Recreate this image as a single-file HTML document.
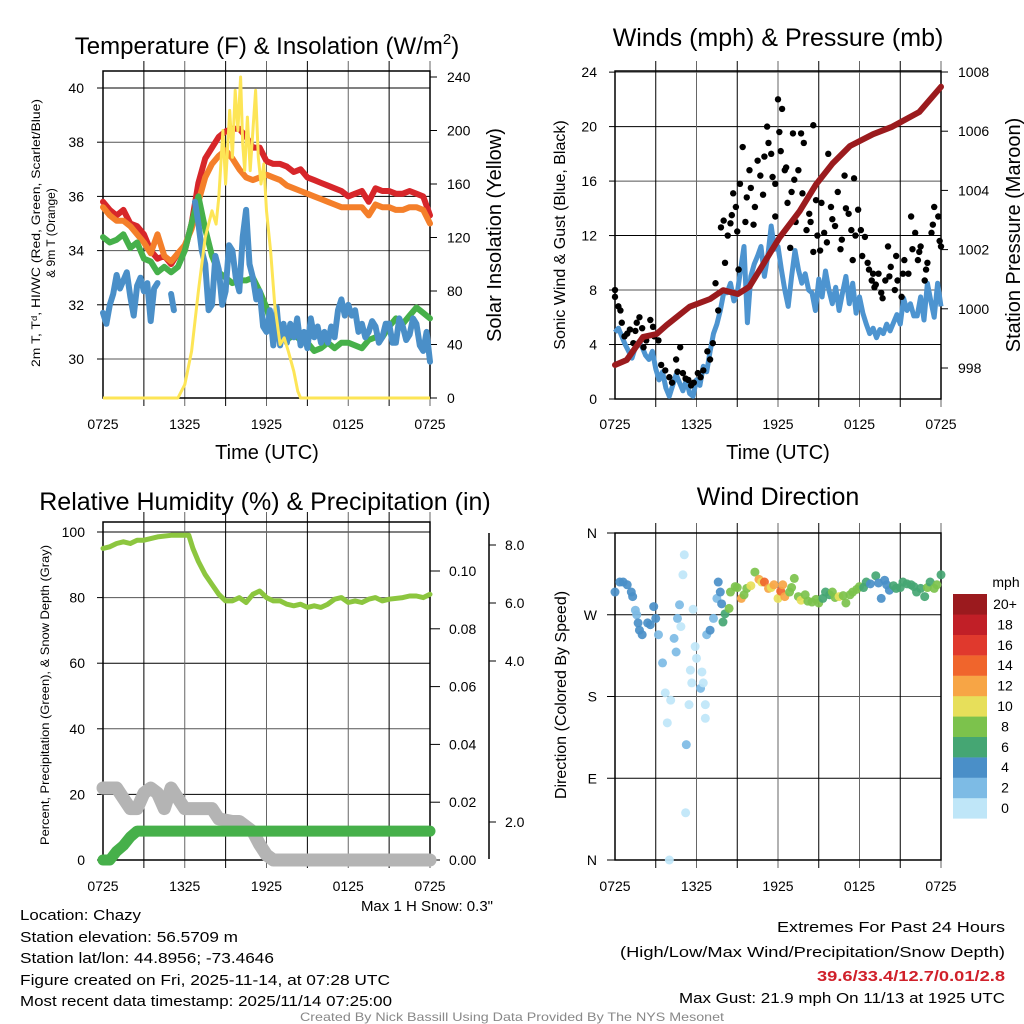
<!DOCTYPE html>
<html><head><meta charset="utf-8">
<style>
html,body{margin:0;padding:0;background:#fff;}
svg{display:block;font-family:"Liberation Sans",Arial,sans-serif;}
</style></head>
<body>
<svg id="fig" width="1024" height="1024" viewBox="0 0 1024 1024" xmlns="http://www.w3.org/2000/svg">
<rect x="0" y="0" width="1024" height="1024" fill="#fff"/>
<g id="g1"></g>
<g id="g2"></g>
<g id="g3"></g>
<g id="g4"></g>
<g font-size="15" fill="#000">
<text x="20" y="920" textLength="121" lengthAdjust="spacingAndGlyphs">Location: Chazy</text>
<text x="20" y="942" textLength="218" lengthAdjust="spacingAndGlyphs">Station elevation: 56.5709 m</text>
<text x="20" y="963" textLength="254" lengthAdjust="spacingAndGlyphs">Station lat/lon: 44.8956; -73.4646</text>
<text x="20" y="985" textLength="370" lengthAdjust="spacingAndGlyphs">Figure created on Fri, 2025-11-14, at 07:28 UTC</text>
<text x="20" y="1006" textLength="372" lengthAdjust="spacingAndGlyphs">Most recent data timestamp: 2025/11/14 07:25:00</text>
</g>
<g font-size="15" text-anchor="end">
<text x="1005" y="932" textLength="228" lengthAdjust="spacingAndGlyphs">Extremes For Past 24 Hours</text>
<text x="1005" y="957" textLength="385" lengthAdjust="spacingAndGlyphs">(High/Low/Max Wind/Precipitation/Snow Depth)</text>
<text x="1005" y="981" fill="#d0202a" font-weight="bold" textLength="188" lengthAdjust="spacingAndGlyphs">39.6/33.4/12.7/0.01/2.8</text>
<text x="1005" y="1003" textLength="326" lengthAdjust="spacingAndGlyphs">Max Gust: 21.9 mph On 11/13 at 1925 UTC</text>
</g>
<text x="512" y="1021" font-size="12" fill="#888" text-anchor="middle" textLength="424" lengthAdjust="spacingAndGlyphs">Created By Nick Bassill Using Data Provided By The NYS Mesonet</text>
</svg>
<script>
// ---------- DATA ----------
const xTickLabels = ["0725","1325","1925","0125","0725"];
// Panel 1
const tempTimes = [0,0.5,1,1.5,2,2.5,3,3.5,4,4.5,5,5.5,6,6.5,7,7.5,8,8.5,9,9.5,10,10.5,11,11.5,12,12.5,13,13.5,14,14.5,15,15.5,16,16.5,17,17.5,18,18.5,19,19.5,20,20.5,21,21.5,22,22.5,23,23.5,24];
const tempRed = [35.8,35.5,35.3,35.5,35.0,34.9,34.6,34.0,33.7,33.8,33.5,33.9,34.0,35.0,36.5,37.4,37.8,38.2,38.4,38.5,38.5,38.2,37.8,37.8,37.3,37.2,37.2,37.1,36.9,37.0,36.7,36.6,36.5,36.4,36.3,36.2,36.0,36.1,36.2,35.8,36.3,36.2,36.2,36.1,36.1,36.2,36.1,36.0,35.3];
const tempOrange = [35.6,35.3,35.1,35.1,34.9,34.6,34.3,33.9,34.6,33.8,33.6,33.9,34.2,34.8,35.8,36.7,37.2,37.5,37.7,37.4,37.0,36.7,36.6,36.7,36.8,36.7,36.6,36.4,36.3,36.2,36.1,36.0,35.9,35.8,35.7,35.6,35.6,35.6,35.6,35.3,35.7,35.6,35.6,35.5,35.5,35.6,35.6,35.5,35.0];
const tempGreen = [34.5,34.3,34.4,34.6,34.1,34.3,33.7,33.6,33.2,33.4,33.2,33.4,34.0,35.0,36.0,34.8,33.8,33.2,33.0,32.8,32.9,32.9,33.0,32.5,31.9,31.0,30.8,30.7,30.9,30.7,30.6,30.3,30.4,30.6,30.4,30.6,30.6,30.5,30.4,30.7,30.8,30.8,31.2,31.5,31.3,31.6,31.9,31.7,31.5];
const blueTimes = [0,0.25,0.5,0.75,1,1.25,1.5,1.75,2,2.25,2.5,2.75,3,3.25,3.5,3.75,4,4.5,5.0,5.2,6.0,6.75,7,7.25,7.5,7.75,8,8.25,8.5,8.75,9,9.25,9.5,9.75,10,10.25,10.5,10.75,11,11.25,11.5,11.75,12,12.25,12.5,12.75,13,13.25,13.5,13.75,14,14.25,14.5,14.75,15,15.25,15.5,15.75,16,16.25,16.5,16.75,17,17.25,17.5,17.75,18,18.25,18.5,18.75,19,19.25,19.5,19.75,20,20.25,20.5,20.75,21,21.25,21.5,21.75,22,22.25,22.5,22.75,23,23.25,23.5,23.75,24];
const tempBlue = [31.7,31.3,32.0,32.4,33.1,32.6,32.9,33.2,32.3,31.6,32.7,33.0,32.5,32.8,31.4,32.6,32.8,null,32.4,31.8,null,35.8,35.0,34.0,33.5,31.8,32.0,33.8,33.3,32.0,32.5,34.2,34.0,33.0,32.5,34.5,35.5,33.5,33.0,32.2,32.5,31.2,31.0,31.8,30.5,31.9,30.5,31.3,30.6,31.3,30.8,31.5,30.5,31.0,30.4,31.5,30.8,31.2,30.6,31.0,30.6,31.2,30.8,31.8,32.2,31.6,32.0,31.6,31.8,31.0,31.3,30.8,31.0,31.4,31.2,30.6,30.8,31.3,31.3,30.6,30.6,31.5,31.2,30.7,30.9,31.5,31.3,30.5,30.3,31.0,29.9];
const solarTimes = [0,5.5,6,6.5,7,7.5,8,8.3,8.5,8.8,9,9.3,9.5,9.7,9.9,10.1,10.25,10.4,10.6,10.8,11,11.2,11.4,11.6,11.8,12,12.3,12.6,13,13.3,13.6,14,14.3,14.5,24];
const solarVals = [0,0,10,35,80,120,140,130,150,200,160,215,180,230,200,240,190,170,210,170,200,230,180,160,175,140,110,70,40,45,35,20,5,0,0];
const p1LeftTicks = [30,32,34,36,38,40];
const p1RightTicks = [0,40,80,120,160,200,240];
// Panel 2
const windTimes = [0,0.25,0.5,0.75,1,1.25,1.5,1.75,2,2.25,2.5,2.75,3,3.25,3.5,3.75,4,4.25,4.5,4.75,5,5.25,5.5,5.75,6,6.25,6.5,6.75,7,7.25,7.5,7.75,8,8.25,8.5,8.75,9,9.25,9.5,9.75,10,10.25,10.5,10.75,11,11.25,11.5,11.75,12,12.25,12.5,12.75,13,13.25,13.5,13.75,14,14.25,14.5,14.75,15,15.25,15.5,15.75,16,16.25,16.5,16.75,17,17.25,17.5,17.75,18,18.25,18.5,18.75,19,19.25,19.5,19.75,20,20.25,20.5,20.75,21,21.25,21.5,21.75,22,22.25,22.5,22.75,23,23.25,23.5,23.75,24];
const windVals = [4.9,5.2,4.6,4.0,3.5,3.0,3.8,4.2,3.8,3.2,2.9,3.5,2.2,1.4,2.0,0.8,0.2,1.0,1.8,1.2,0.6,1.4,0.4,0.2,1.4,1.0,2.4,2.0,3.5,4.8,5.5,6.5,7.8,7.8,8.5,7.2,7.8,9.5,11.2,5.6,9.0,9.9,10.5,11.2,9.0,10.5,12.7,11.0,11.2,9.5,8.0,6.8,9.0,10.9,9.5,8.5,9.2,8.0,7.8,6.5,8.8,7.5,9.4,8.0,7.0,8.2,6.5,7.8,9.0,7.0,8.5,6.3,7.5,6.3,5.5,4.8,5.2,4.5,5.1,4.8,5.5,5.0,5.6,6.2,5.5,7.4,6.5,7.0,6.1,6.1,7.5,5.8,8.5,7.2,6.0,8.5,6.8];
const gustTimes = [0,0,0.25,0.5,0.7,1.1,1.35,1.6,1.8,2.0,2.3,2.6,2.8,3.2,3.7,4.0,4.5,4.8,5.0,5.4,5.8,6.1,6.5,7.0,7.2,7.6,8.1,8.0,8.5,8.7,8.9,9.1,9.4,9.7,10.0,10.3,10.7,11.0,11.3,11.5,11.6,11.8,12.0,12.1,12.3,12.5,12.7,12.9,13.1,13.2,13.5,13.7,13.8,14.1,14.3,14.6,14.6,14.8,15.1,15.4,15.7,15.9,16.2,16.4,16.7,16.9,17.2,17.4,17.5,17.6,17.9,18.1,18.4,18.6,18.9,19.0,19.1,19.4,19.6,19.9,20.1,20.3,20.6,20.8,21.1,21.3,21.6,21.8,22.1,22.3,22.5,22.8,23.0,23.3,23.5,23.8,24.0,
 0.4,0.9,1.5,2.1,2.9,3.4,4.2,4.6,5.2,5.6,6.3,6.8,7.4,7.8,8.3,8.6,9.0,9.2,9.6,9.9,10.2,10.5,10.9,11.2,11.8,12.2,12.6,13.0,13.3,13.9,14.4,14.9,15.2,15.6,16.0,16.6,17.0,17.7,18.2,18.7,19.2,19.7,20.2,20.7,21.2,21.9,22.4,22.9,23.4,23.9];
const gustVals = [8.0,7.5,6.8,5.6,4.6,5.1,4.1,5.6,6.0,5.2,4.3,5.8,5.3,4.3,2.1,1.6,2.9,3.8,1.9,1.4,1.2,1.9,2.1,2.9,4.1,6.5,10.0,13.1,12.9,15.1,14.1,9.5,18.5,14.8,15.5,14.1,16.4,17.8,18.8,18.0,16.3,13.4,22.0,19.6,21.3,16.8,14.4,11.1,19.5,16.1,16.8,19.5,15.1,12.4,13.6,20.1,10.8,14.6,10.9,12.2,18.0,14.1,12.7,15.2,11.7,16.4,13.6,12.4,10.2,16.2,13.9,12.4,11.9,10.0,8.7,9.2,8.2,9.2,7.8,8.7,11.2,9.7,8.0,8.7,7.5,10.2,9.2,13.4,12.2,10.2,11.2,8.7,10.0,12.2,14.1,13.4,11.2,
 6.5,4.8,5.0,3.8,4.6,2.5,1.2,2.0,1.5,1.0,1.6,3.5,8.5,12.6,12.0,13.5,12.3,15.8,13.0,16.8,12.8,17.5,15.0,20.0,15.8,18.2,17.0,15.2,13.0,18.8,13.0,12.0,14.4,11.5,13.2,11.0,14.0,12.0,10.5,9.5,8.4,7.4,9.0,10.5,9.2,11.0,10.8,9.5,12.8,11.6];
const presTimes = [0,0.86,2.07,3.06,3.8,5.5,7,7.96,9.05,9.9,10.9,12.1,13.6,14.8,16,17.3,19,20.4,22.4,24];
const presVals = [998.1,998.27,999.05,999.15,999.45,1000.07,1000.33,1000.63,1000.5,1000.75,1001.5,1002.4,1003.3,1004.2,1004.9,1005.5,1005.9,1006.15,1006.65,1007.5];
const p2LeftTicks = [0,4,8,12,16,20,24];
const p2RightTicks = [998,1000,1002,1004,1006,1008];
// Panel 3
const rhTimes = [0,0.5,1,1.5,2,2.5,3,3.5,4,5,6,6.3,6.6,7,7.5,8,8.5,9,9.5,10,10.5,11,11.5,12,12.5,13,13.5,14,14.5,15,15.5,16,16.5,17,17.5,18,18.5,19,19.5,20,20.5,21,22,22.5,23,23.5,24];
const rhVals = [95,95.5,96.5,97,96.5,97.5,97.5,98,98.5,99,99,99,95,91,87,84,81,79,79,80,78.5,81,82,80,79,79,78,77.5,78,77,77.5,77,78,79.5,80,78.5,79,78.5,79.5,80,79,79.5,80,80.5,80.5,80,81];
const precipTimes = [0,0.5,1,1.5,2,2.5,24];
const precipVals = [0,0,0.003,0.005,0.008,0.01,0.01];
const snowTimes = [0,1,1.5,2,2.5,3,3.5,4,4.5,5,5.5,6,7,8,8.5,9.5,10,11,11.5,12,12.5,24];
const snowVals = [2.8,2.8,2.4,2.0,2.0,2.6,2.8,2.6,2.0,2.8,2.4,2.0,2.0,2.0,1.6,1.5,1.5,1.1,0.6,0.2,0,0];
const p3LeftTicks = [0,20,40,60,80,100];
const p3PrecipTicks = ["0.00","0.02","0.04","0.06","0.08","0.10"];
const p3SnowTicks = ["8.0","6.0","4.0","2.0"];
// Panel 4
const dirTimes = [0,0.35,0.6,0.9,1.2,1.3,1.5,1.6,1.7,1.8,2.0,2.4,2.6,2.85,3.0,3.2,3.5,3.7,3.85,4.0,4.1,4.35,4.5,4.6,4.75,4.85,5.0,5.1,5.2,5.25,5.45,5.55,5.65,5.75,5.9,6.0,6.3,6.4,6.5,6.65,6.65,6.75,7.0,7.25,7.5,7.6,7.75,7.85,7.95,8.1,8.4,8.5,8.85,9.0,9.3,9.5,9.7,10.0,10.3,10.6,10.8,11.0,11.3,11.5,11.7,12.0,12.2,12.35,12.5,12.85,13.0,13.2,13.5,13.7,14.0,14.2,14.5,14.8,15.0,15.3,15.5,15.8,16.0,16.2,16.5,16.8,17.0,17.3,17.5,17.8,18.0,18.3,18.5,18.8,19.2,19.4,19.6,19.85,20.0,20.2,20.5,20.7,21.0,21.2,21.5,21.8,22.0,22.2,22.5,22.8,23.0,23.2,23.5,23.7,24];
const dirVals = [295,306,306,303,295,290,275,270,261,253,248,261,259,279,266,248,217,184,151,0,176,244,229,266,281,257,314,336,52,127,171,209,195,276,235,222,189,207,195,171,156,248,253,266,288,306,295,282,262,271,277,295,301,300,288,292,299,302,317,309,306,306,299,300,303,288,296,303,290,295,300,310,290,286,292,285,284,287,283,288,295,292,295,289,290,291,283,292,295,298,301,300,306,304,313,305,288,308,303,297,302,299,300,306,304,303,301,295,299,290,300,306,299,303,314];
const dirSpeeds = [4,4,4,3,3,3,2.5,2.5,3,3.5,3.5,4,4,3.5,3,2.5,1,0.5,0.5,0.5,0.5,2.5,1,2,2,0.5,0.5,0.5,0.5,2,0.5,0.5,0.5,0.5,0.5,0.5,2.5,0.5,0.5,0.5,0.5,1,3,2,2,4,4,4,6,6,8,8,8,8,12,8,8,10,8,12,10,14,12,10,12,10,14,12,12,8,8,7,8,10,8,8,8,8,8,6,6,6,8,8,10,8,8,8,8,8,8,6,6,4,6,4,4,4,4,4,6,6,6,6,6,6,6,6,6,6,8,6,8,8,6];
const speedBinLabels = ["0","2","4","6","8","10","12","14","16","18","20+"];
const speedBinColors = ["#bfe6f8","#7dbbe5","#4a8fc8","#45a673","#7cc24c","#e7df5a","#f7a545","#f0652c","#e0392d","#c11f27","#9b1a1e"];
const dirTickLabels = ["N","E","S","W","N"];

// ---------- HELPERS ----------
const NS = "http://www.w3.org/2000/svg";
function mk(parent, tag, attrs, text) {
  const el = document.createElementNS(NS, tag);
  for (const k in attrs) el.setAttribute(k, attrs[k]);
  if (text !== undefined) el.textContent = text;
  parent.appendChild(el);
  return el;
}
function pathD(ts, vs, fx, fy) {
  let d = "", pen = false;
  for (let i = 0; i < ts.length; i++) {
    if (vs[i] === null) { pen = false; continue; }
    d += (pen ? "L" : "M") + fx(ts[i]).toFixed(1) + " " + fy(vs[i]).toFixed(1);
    pen = true;
  }
  return d;
}
function frame(g, x0, x1, y0, y1, hLines, vx) {
  hLines.forEach((y, i) => {
    const ln = mk(g, "line", {x1: x0, x2: x1, y1: y, y2: y, stroke: i % 2 ? "#000" : "#555", "stroke-width": 1});
    
    
  });
  vx.forEach((x, i) => {
    const ln = mk(g, "line", {x1: x, x2: x, y1: y0 - 10, y2: y1 + 8, stroke: i % 2 ? "#666" : "#000", "stroke-width": 1});
    
    
  });
  const box = mk(g, "rect", {x: x0, y: y0, width: x1 - x0, height: y1 - y0, fill: "none", stroke: "#000", "stroke-width": 1.5});
  
  
}
function txt(g, x, y, s, attrs, name) {
  const t = mk(g, "text", Object.assign({x: x, y: y, "font-size": 14}, attrs || {}), s);
  
  
  return t;
}
function vtxt(g, x, y, s, size, name, len) {
  const a = {x: 0, y: 0, "font-size": size, "text-anchor": "middle", transform: "translate(" + x + "," + y + ") rotate(-90)"};
  if (len) { a.textLength = len; a.lengthAdjust = "spacingAndGlyphs"; }
  const t = mk(g, "text", a, s);
  
  
  return t;
}
function xTicks(g, fx, y) {
  xTickLabels.forEach((lab, i) => {
    txt(g, fx(i * 6), y, lab, {"text-anchor": "middle"}, "x-tick-label");
  });
}

// ---------- PANEL 1 ----------
(function () {
  const g = document.getElementById("g1");
  const X0 = 103, X1 = 430;
  const fx = t => X0 + t * (X1 - X0) / 24;
  const fyT = v => 88 + (40 - v) * 27.1;
  const fyS = w => 398 - w * (398 - 77) / 240;
  const vx = []; for (let h = 3; h <= 24; h += 3) vx.push(fx(h));
  frame(g, X0, X1, 71, 398, p1LeftTicks.map(fyT), vx);
  p1LeftTicks.forEach(v => {
    mk(g, "line", {x1: X0 - 6, x2: X0, y1: fyT(v), y2: fyT(v), stroke: "#000"});
    txt(g, 84, fyT(v) + 5, String(v), {"text-anchor": "end"}, "left-tick-label");
  });
  p1RightTicks.forEach(v => {
    mk(g, "line", {x1: X1, x2: X1 + 7, y1: fyS(v), y2: fyS(v), stroke: "#000"});
    txt(g, 447, fyS(v) + 5, String(v), {}, "right-tick-label");
  });
  const series = [[tempTimes, tempRed, "#d7262a", "temp-2m-line"], [tempTimes, tempOrange, "#f47f2a", "temp-9m-line"], [tempTimes, tempGreen, "#46b04a", "dewpoint-line"], [blueTimes, tempBlue, "#4a8fc8", "windchill-line"]];
  series.forEach(s => {
    const p = mk(g, "path", {d: pathD(s[0], s[1], fx, fyT), fill: "none", stroke: s[2], "stroke-width": 6, "stroke-linejoin": "round", "stroke-linecap": "round"});
    
    
  });
  const sp = mk(g, "path", {d: pathD(solarTimes, solarVals, fx, fyS), fill: "none", stroke: "#fde556", "stroke-width": 3, "stroke-linejoin": "round"});
  
  
  xTicks(g, fx, 429);
  const t = mk(g, "text", {x: 267, y: 54, "font-size": 24, "text-anchor": "middle"});
  
  
  t.innerHTML = 'Temperature (F) &amp; Insolation (W/m<tspan dy="-10" font-size="15">2</tspan><tspan dy="10">)</tspan>';
  txt(g, 267, 459, "Time (UTC)", {"font-size": 20, "text-anchor": "middle"}, "x-axis-title");
  vtxt(g, 40, 233, "2m T, T\u1D48, HI/WC (Red, Green, Scarlet/Blue)", 12, "left-axis-title", 268);
  vtxt(g, 55, 233, "& 9m T (Orange)", 12, "left-axis-title-line2");
  vtxt(g, 501, 235, "Solar Insolation (Yellow)", 20, "right-axis-title");
})();

// ---------- PANEL 2 ----------
(function () {
  const g = document.getElementById("g2");
  const X0 = 615, X1 = 941;
  const fx = t => X0 + t * (X1 - X0) / 24;
  const fyW = v => 399 - v * 13.62;
  const fyP = p => 368 - (p - 998) * 29.6;
  const vx = []; for (let h = 3; h <= 24; h += 3) vx.push(fx(h));
  frame(g, X0, X1, 71, 399, p2LeftTicks.map(fyW), vx);
  p2LeftTicks.forEach(v => {
    mk(g, "line", {x1: X0 - 6, x2: X0, y1: fyW(v), y2: fyW(v), stroke: "#000"});
    txt(g, 597, fyW(v) + 5, String(v), {"text-anchor": "end"}, "left-tick-label");
  });
  p2RightTicks.forEach(v => {
    mk(g, "line", {x1: X1, x2: X1 + 7, y1: fyP(v), y2: fyP(v), stroke: "#000"});
    txt(g, 958, fyP(v) + 5, String(v), {}, "right-tick-label");
  });
  const wp = mk(g, "path", {d: pathD(windTimes, windVals, fx, fyW), fill: "none", stroke: "#4d94d0", "stroke-width": 5, "stroke-linejoin": "round"});
  
  
  gustTimes.forEach((t, i) => {
    const c = mk(g, "circle", {cx: fx(t), cy: fyW(gustVals[i]), r: 3.2, fill: "#000"});
    
    
  });
  const pp = mk(g, "path", {d: pathD(presTimes, presVals, fx, fyP), fill: "none", stroke: "#9b1b1e", "stroke-width": 6, "stroke-linejoin": "round", "stroke-linecap": "round"});
  
  
  xTicks(g, fx, 429);
  txt(g, 778, 46, "Winds (mph) & Pressure (mb)", {"font-size": 25, "text-anchor": "middle"}, "winds-title");
  txt(g, 778, 459, "Time (UTC)", {"font-size": 20, "text-anchor": "middle"}, "x-axis-title");
  vtxt(g, 565, 235, "Sonic Wind & Gust (Blue, Black)", 16, "left-axis-title");
  vtxt(g, 1020, 235, "Station Pressure (Maroon)", 20, "right-axis-title");
})();

// ---------- PANEL 3 ----------
(function () {
  const g = document.getElementById("g3");
  const X0 = 103, X1 = 430;
  const fx = t => X0 + t * (X1 - X0) / 24;
  const fyR = v => 860 - v * 3.28;
  const fyPr = p => 860 - p * 2890;
  const fyS = s => 860 - s * 25.7;
  const vx = []; for (let h = 3; h <= 24; h += 3) vx.push(fx(h));
  frame(g, X0, X1, 522, 860, p3LeftTicks.map(fyR), vx);
  p3LeftTicks.forEach(v => {
    mk(g, "line", {x1: X0 - 6, x2: X0, y1: fyR(v), y2: fyR(v), stroke: "#000"});
    txt(g, 85, fyR(v) + 5, String(v), {"text-anchor": "end"}, "left-tick-label");
  });
  p3PrecipTicks.forEach(s => {
    const y = fyPr(parseFloat(s));
    mk(g, "line", {x1: X1, x2: X1 + 10, y1: y, y2: y, stroke: "#000"});
    txt(g, 449, y + 5, s, {}, "precip-tick-label");
  });
  const sa = mk(g, "line", {x1: 489, x2: 489, y1: 533, y2: 859, stroke: "#000", "stroke-width": 1.5});
  
  
  const snowY = [545, 603, 661, 822];
  p3SnowTicks.forEach((s, i) => {
    mk(g, "line", {x1: 489, x2: 496, y1: snowY[i], y2: snowY[i], stroke: "#000"});
    txt(g, 505, snowY[i] + 5, s, {}, "snow-tick-label");
  });
  const sp = mk(g, "path", {d: pathD(snowTimes, snowVals, fx, fyS), fill: "none", stroke: "#b4b4b4", "stroke-width": 13, "stroke-linejoin": "round", "stroke-linecap": "round"});
  
  
  const pr = mk(g, "path", {d: pathD(precipTimes, precipVals, fx, fyPr), fill: "none", stroke: "#46b04a", "stroke-width": 11, "stroke-linejoin": "round", "stroke-linecap": "round"});
  
  
  const rh = mk(g, "path", {d: pathD(rhTimes, rhVals, fx, fyR), fill: "none", stroke: "#8cc63f", "stroke-width": 5, "stroke-linejoin": "round", "stroke-linecap": "round"});
  
  
  xTicks(g, fx, 891);
  txt(g, 265, 510, "Relative Humidity (%) & Precipitation (in)", {"font-size": 25, "text-anchor": "middle"}, "humidity-title");
  vtxt(g, 49, 695, "Percent, Precipitation (Green), & Snow Depth (Gray)", 12, "left-axis-title", 300);
  txt(g, 493, 911, "Max 1 H Snow: 0.3\"", {"text-anchor": "end", "font-size": 15}, "max-snow-text");
})();

// ---------- PANEL 4 ----------
(function () {
  const g = document.getElementById("g4");
  const X0 = 615, X1 = 941;
  const fx = t => X0 + t * (X1 - X0) / 24;
  const fyD = d => 860 - d * 0.9083;
  const vx = []; for (let h = 3; h <= 24; h += 3) vx.push(fx(h));
  frame(g, X0, X1, 533, 860, [0, 90, 180, 270, 360].map(fyD), vx);
  dirTickLabels.forEach((lab, i) => {
    mk(g, "line", {x1: X0 - 8, x2: X0, y1: fyD(i * 90), y2: fyD(i * 90), stroke: "#000"});
    txt(g, 597, fyD(i * 90) + 5, lab, {"text-anchor": "end"}, "direction-tick-label");
  });
  dirTimes.forEach((t, i) => {
    const bin = Math.min(10, Math.max(0, Math.round(dirSpeeds[i] / 2)));
    const c = mk(g, "circle", {cx: fx(t), cy: fyD(dirVals[i]), r: 4.5, fill: speedBinColors[bin], "fill-opacity": 0.92});
    
    
  });
  const cb = mk(g, "g", {});
  
  
  speedBinLabels.forEach((lab, i) => {
    const y = 594 + (10 - i) * 20.4;
    const r = mk(cb, "rect", {x: 953, y: y, width: 34, height: 20.6, fill: speedBinColors[i]});
    
    
    txt(cb, 1005, y + 15, lab, {"text-anchor": "middle"}, "colorbar-label");
  });
  txt(cb, 1006, 587, "mph", {"text-anchor": "middle"}, "colorbar-title");
  xTicks(g, fx, 891);
  txt(g, 778, 505, "Wind Direction", {"font-size": 25, "text-anchor": "middle"}, "wind-direction-title");
  vtxt(g, 566, 695, "Direction (Colored By Speed)", 16, "left-axis-title");
})();
</script>
</body></html>
